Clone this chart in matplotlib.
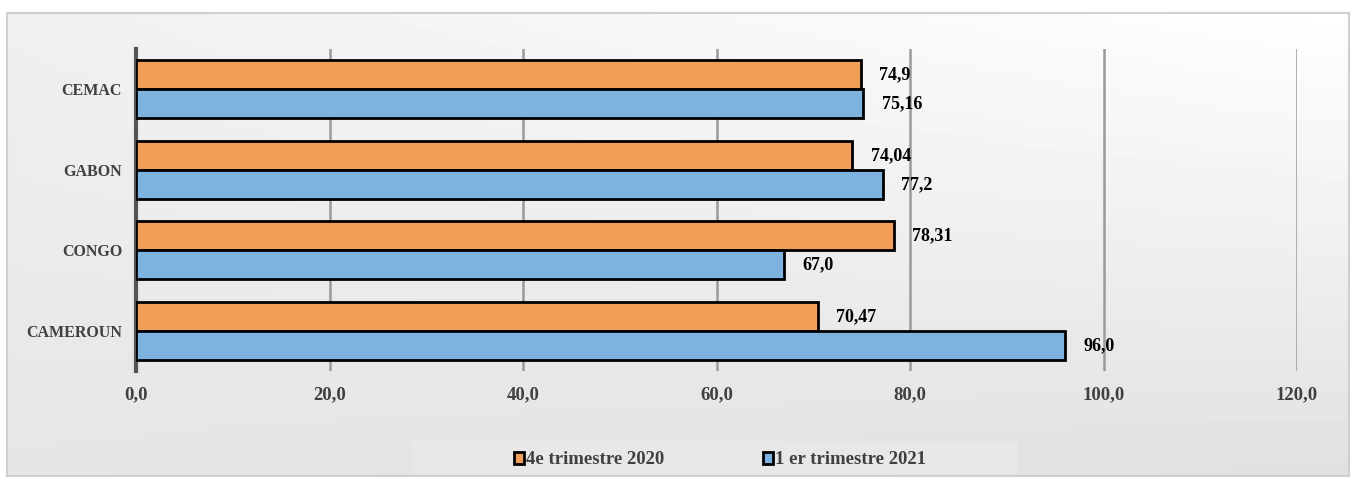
import matplotlib
matplotlib.use("Agg")
import matplotlib.pyplot as plt
import numpy as np
from matplotlib.patches import Rectangle

categories = ["CEMAC", "GABON", "CONGO", "CAMEROUN"]
series_names = ["4e trimestre 2020", "1 er trimestre 2021"]
q4_2020 = [74.9, 74.04, 78.31, 70.47]
q1_2021 = [75.16, 77.2, 67.0, 96.0]
q4_labels = ["74,9", "74,04", "78,31", "70,47"]
q1_labels = ["75,16", "77,2", "67,0", "96,0"]
xticks = [0, 20, 40, 60, 80, 100, 120]
xtick_labels = ["0,0", "20,0", "40,0", "60,0", "80,0", "100,0", "120,0"]

orange = "#F19E59"
blue = "#7DB3DE"
font = "Liberation Serif"

fig = plt.figure(figsize=(13.54, 4.79), dpi=100)
fig.patch.set_facecolor("white")

# background gradient panel
bg = fig.add_axes([7/1354, 1-476/479, 1342/1354, 463/479], zorder=0)
gx, gy = np.meshgrid(np.linspace(0, 1, 200), np.linspace(0, 1, 100))
grad = 0.90 + 0.06 * gx * (1 - gy) + 0.04 * (1 - gy) - 0.02 * gy * gx
bg.imshow(grad, cmap="gray", vmin=0, vmax=1, aspect="auto", origin="upper",
          extent=[0, 1, 0, 1])
bg.set_xlim(0, 1); bg.set_ylim(0, 1)
bg.set_xticks([]); bg.set_yticks([])
for s in bg.spines.values():
    s.set_color("#cfcfcf"); s.set_linewidth(1.5)

ax = fig.add_axes([136/1354, 1-371/479, (1297-136)/1354, (371-49)/479], zorder=1)
ax.patch.set_alpha(0)

n = len(categories)
y = np.arange(n)
h = 0.36
ax.barh(y - h/2, q4_2020, height=h, color=orange, edgecolor="black", linewidth=2, zorder=3)
ax.barh(y + h/2, q1_2021, height=h, color=blue, edgecolor="black", linewidth=2, zorder=3)

for i in range(n):
    ax.text(q4_2020[i] + 1.9, y[i] - h/2, q4_labels[i], va="center", ha="left",
            fontsize=13, fontweight="bold", family=font, color="black", zorder=4)
    ax.text(q1_2021[i] + 1.9, y[i] + h/2, q1_labels[i], va="center", ha="left",
            fontsize=13, fontweight="bold", family=font, color="black", zorder=4)

ax.set_ylim(n - 0.5, -0.5)
ax.set_xlim(0, 120)
ax.set_yticks(y)
ax.set_yticklabels(categories, fontsize=11.5, fontweight="bold", family=font, color="#404040")
ax.set_xticks(xticks)
ax.set_xticklabels(xtick_labels, fontsize=13.5, fontweight="bold", family=font, color="#404040")
ax.tick_params(axis="both", length=0)
ax.tick_params(axis="x", pad=11)
ax.tick_params(axis="y", pad=10)
for xv in xticks[1:]:
    ax.axvline(xv, color="#9a9a9a", linewidth=1.8, zorder=1)
for k, s in ax.spines.items():
    s.set_visible(False)
ax.spines["left"].set_visible(True)
ax.spines["left"].set_color("#555555")
ax.spines["left"].set_linewidth(3)

# legend box
leg_ax = fig.add_axes([413/1354, 1-474/479, (1017-413)/1354, 33/479], zorder=2)
leg_ax.set_xlim(0, 1); leg_ax.set_ylim(0, 1)
leg_ax.set_facecolor("#e8e8e8")
leg_ax.set_xticks([]); leg_ax.set_yticks([])
for s in leg_ax.spines.values():
    s.set_visible(False)
w = 10/604; hh = 12/33
for (xp, col, name) in [(101/604, orange, series_names[0]), (350/604, blue, series_names[1])]:
    leg_ax.add_patch(Rectangle((xp, 0.5 - hh/2 - 0.02), w, hh, facecolor=col,
                               edgecolor="black", linewidth=2))
    leg_ax.text(xp + w + 2/604, 0.45, name, va="center", ha="left", fontsize=13.5,
                fontweight="bold", family=font, color="#404040")

fig.savefig("out.png", dpi=100)
